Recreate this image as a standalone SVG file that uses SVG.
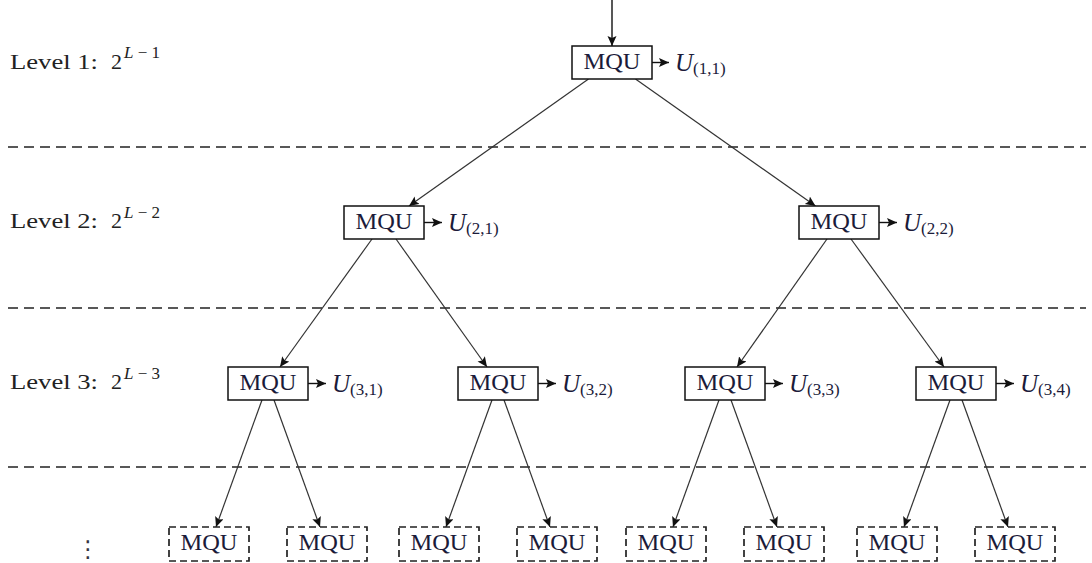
<svg xmlns="http://www.w3.org/2000/svg" width="1092" height="563" viewBox="0 0 1092 563">
<style>
.bg{fill:#fff}
.box{fill:#fff;stroke:#111;stroke-width:1.5}
.dbox{fill:#fff;stroke:#222;stroke-width:1.7;stroke-dasharray:7 4}
.t{font-family:"Liberation Serif","DejaVu Serif",serif;font-size:24px;fill:#1b1b3a}
.lv{font-family:"Liberation Serif","DejaVu Serif",serif;font-size:22px;fill:#222}
.sup{font-family:"Liberation Serif","DejaVu Serif",serif;font-size:17px;fill:#222}
.u{font-family:"Liberation Serif","DejaVu Serif",serif;font-size:25px;font-style:italic;fill:#1b1b3a}
.sub{font-family:"Liberation Serif","DejaVu Serif",serif;font-size:17px;font-style:normal;fill:#1b1b3a}
.e{stroke:#333;stroke-width:1.2;fill:none;marker-end:url(#ah)}
.o{stroke:#111;stroke-width:1.4;fill:none;marker-end:url(#ah)}
.sep{stroke:#222;stroke-width:1.5;stroke-dasharray:10 6}
</style>
<defs>
<marker id="ah" markerWidth="12" markerHeight="10" refX="10" refY="4.5" orient="auto" markerUnits="userSpaceOnUse">
<path d="M0,0 L10,4.5 L0,9 L2,4.5 z" fill="#111"/>
</marker>
</defs>
<rect class="bg" x="0" y="0" width="1092" height="563"/>
<g id="separators">
<line class="sep" x1="8" y1="147" x2="1086" y2="147"/>
<line class="sep" x1="8" y1="308" x2="1086" y2="308"/>
<line class="sep" x1="8" y1="467" x2="1086" y2="467"/>
</g>
<g id="level-labels">
<text class="lv" x="10" y="68.5" textLength="88" lengthAdjust="spacingAndGlyphs">Level 1:</text>
<text class="lv" x="111" y="68.5">2</text><text class="sup" x="124" y="58"><tspan font-style="italic">L</tspan> − 1</text>
<text class="lv" x="10" y="228" textLength="88" lengthAdjust="spacingAndGlyphs">Level 2:</text>
<text class="lv" x="111" y="228">2</text><text class="sup" x="124" y="218"><tspan font-style="italic">L</tspan> − 2</text>
<text class="lv" x="10" y="389" textLength="88" lengthAdjust="spacingAndGlyphs">Level 3:</text>
<text class="lv" x="111" y="389">2</text><text class="sup" x="124" y="379"><tspan font-style="italic">L</tspan> − 3</text>
<text x="88" y="557" font-family="DejaVu Sans,sans-serif" font-size="23" fill="#334" text-anchor="middle">⋮</text>
</g>
<g id="connectors">
<line class="o" x1="612" y1="0" x2="612" y2="46"/>
<line class="e" x1="588.5" y1="79" x2="409" y2="206"/>
<line class="e" x1="635.5" y1="79" x2="815.5" y2="206"/>
<line class="e" x1="372" y1="239" x2="280" y2="367"/>
<line class="e" x1="396" y1="239" x2="487" y2="367"/>
<line class="e" x1="827" y1="239" x2="737" y2="367"/>
<line class="e" x1="851" y1="239" x2="944" y2="367"/>
<line class="e" x1="262" y1="400" x2="216" y2="527"/>
<line class="e" x1="274" y1="400" x2="320" y2="527"/>
<line class="e" x1="492" y1="400" x2="446" y2="527"/>
<line class="e" x1="504" y1="400" x2="550" y2="527"/>
<line class="e" x1="719" y1="400" x2="673" y2="527"/>
<line class="e" x1="731" y1="400" x2="777" y2="527"/>
<line class="e" x1="950" y1="400" x2="904" y2="527"/>
<line class="e" x1="962" y1="400" x2="1008" y2="527"/>
<line class="o" x1="652" y1="62.5" x2="669" y2="62.5"/>
<line class="o" x1="424" y1="222.5" x2="442" y2="222.5"/>
<line class="o" x1="879" y1="222.5" x2="897" y2="222.5"/>
<line class="o" x1="308" y1="383.5" x2="326" y2="383.5"/>
<line class="o" x1="538" y1="383.5" x2="556" y2="383.5"/>
<line class="o" x1="765" y1="383.5" x2="783" y2="383.5"/>
<line class="o" x1="996" y1="383.5" x2="1014" y2="383.5"/>
</g>
<g id="n11"><rect class="box" x="572" y="46" width="80" height="33"/><text class="t" x="612" y="69" text-anchor="middle" textLength="57" lengthAdjust="spacingAndGlyphs">MQU</text><text class="u" x="675" y="71">U<tspan class="sub" dy="3">(1,1)</tspan></text></g>
<g id="n21"><rect class="box" x="344" y="206" width="80" height="33"/><text class="t" x="384" y="229" text-anchor="middle" textLength="57" lengthAdjust="spacingAndGlyphs">MQU</text><text class="u" x="448" y="231">U<tspan class="sub" dy="3">(2,1)</tspan></text></g>
<g id="n22"><rect class="box" x="799" y="206" width="80" height="33"/><text class="t" x="839" y="229" text-anchor="middle" textLength="57" lengthAdjust="spacingAndGlyphs">MQU</text><text class="u" x="903" y="231">U<tspan class="sub" dy="3">(2,2)</tspan></text></g>
<g id="n31"><rect class="box" x="228" y="367" width="80" height="33"/><text class="t" x="268" y="390" text-anchor="middle" textLength="57" lengthAdjust="spacingAndGlyphs">MQU</text><text class="u" x="332" y="392">U<tspan class="sub" dy="3">(3,1)</tspan></text></g>
<g id="n32"><rect class="box" x="458" y="367" width="80" height="33"/><text class="t" x="498" y="390" text-anchor="middle" textLength="57" lengthAdjust="spacingAndGlyphs">MQU</text><text class="u" x="562" y="392">U<tspan class="sub" dy="3">(3,2)</tspan></text></g>
<g id="n33"><rect class="box" x="685" y="367" width="80" height="33"/><text class="t" x="725" y="390" text-anchor="middle" textLength="57" lengthAdjust="spacingAndGlyphs">MQU</text><text class="u" x="789" y="392">U<tspan class="sub" dy="3">(3,3)</tspan></text></g>
<g id="n34"><rect class="box" x="916" y="367" width="80" height="33"/><text class="t" x="956" y="390" text-anchor="middle" textLength="57" lengthAdjust="spacingAndGlyphs">MQU</text><text class="u" x="1020" y="392">U<tspan class="sub" dy="3">(3,4)</tspan></text></g>
<g id="n41"><rect class="dbox" x="169" y="527" width="80" height="34"/><text class="t" x="209" y="550" text-anchor="middle" textLength="57" lengthAdjust="spacingAndGlyphs">MQU</text></g>
<g id="n42"><rect class="dbox" x="287" y="527" width="80" height="34"/><text class="t" x="327" y="550" text-anchor="middle" textLength="57" lengthAdjust="spacingAndGlyphs">MQU</text></g>
<g id="n43"><rect class="dbox" x="399" y="527" width="80" height="34"/><text class="t" x="439" y="550" text-anchor="middle" textLength="57" lengthAdjust="spacingAndGlyphs">MQU</text></g>
<g id="n44"><rect class="dbox" x="517" y="527" width="80" height="34"/><text class="t" x="557" y="550" text-anchor="middle" textLength="57" lengthAdjust="spacingAndGlyphs">MQU</text></g>
<g id="n45"><rect class="dbox" x="626" y="527" width="80" height="34"/><text class="t" x="666" y="550" text-anchor="middle" textLength="57" lengthAdjust="spacingAndGlyphs">MQU</text></g>
<g id="n46"><rect class="dbox" x="744" y="527" width="80" height="34"/><text class="t" x="784" y="550" text-anchor="middle" textLength="57" lengthAdjust="spacingAndGlyphs">MQU</text></g>
<g id="n47"><rect class="dbox" x="857" y="527" width="80" height="34"/><text class="t" x="897" y="550" text-anchor="middle" textLength="57" lengthAdjust="spacingAndGlyphs">MQU</text></g>
<g id="n48"><rect class="dbox" x="975" y="527" width="80" height="34"/><text class="t" x="1015" y="550" text-anchor="middle" textLength="57" lengthAdjust="spacingAndGlyphs">MQU</text></g>
</svg>
